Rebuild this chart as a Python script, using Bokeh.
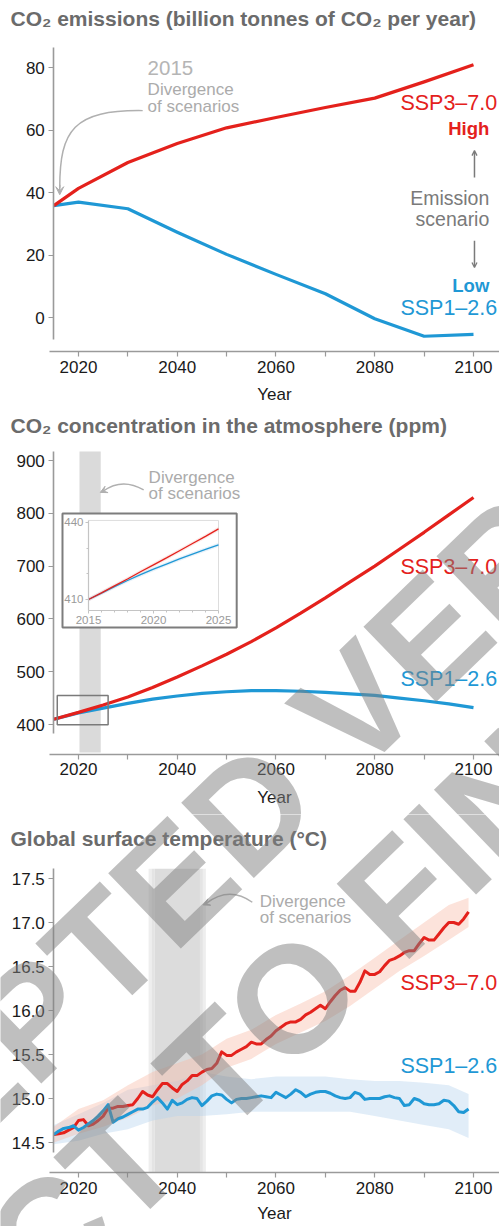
from bokeh.plotting import figure
from bokeh.layouts import column
from bokeh.models import (Range1d, LinearAxis, FixedTicker, Arrow, VeeHead, OpenHead,
                          PrintfTickFormatter, Label)
from bokeh.core.properties import value
from bokeh.embed import file_html
from bokeh.resources import INLINE

FONT = "Liberation Sans"
RED = "#e4211c"
BLUE = "#1f98d5"
TITLE_C = "#6b6b6b"
AX_C = "#9a9a9a"
LBL_C = "#1a1a1a"
NOTE_C = "#ababab"

# ---------------- Panel 1: CO2 emissions ----------------
em_years = [2015, 2020, 2030, 2040, 2050, 2060, 2070, 2080, 2090, 2100]
em_ssp370 = [35.8, 41.3, 49.6, 55.7, 60.7, 64.0, 67.2, 70.2, 75.4, 80.9]
em_ssp126 = [35.8, 36.9, 34.8, 27.3, 20.2, 13.8, 7.6, -0.4, -6.0, -5.4]
em_yticks = [0, 20, 40, 60, 80]

# ---------------- Panel 2: CO2 concentration ----------------
conc_years = [2015, 2020, 2025, 2030, 2035, 2040, 2045, 2050, 2055, 2060,
              2065, 2070, 2075, 2080, 2085, 2090, 2095, 2100]
conc_ssp370 = [410, 423, 437, 452, 470, 490, 511, 533, 557, 583,
               611, 640, 670, 700, 732, 764, 797, 830]
conc_ssp126 = [410, 422, 431, 440, 448, 454, 459, 462, 464, 464,
               463, 461, 458, 455, 450, 445, 439, 432]
conc_yticks = [400, 500, 600, 700, 800, 900]

inset_years = [2015, 2016, 2017, 2018, 2019, 2020, 2021, 2022, 2023, 2024, 2025]
inset_ssp370 = [410.0, 412.6, 415.3, 418.0, 420.8, 423.5, 426.2, 429.0, 431.8, 434.6, 437.5]
inset_ssp126 = [410.0, 412.5, 415.0, 417.4, 419.7, 421.8, 423.8, 425.8, 427.7, 429.5, 431.3]
inset_yticks = [410, 440]
inset_xticks = [2015, 2020, 2025]

# ---------------- Panel 3: global surface temperature ----------------
temp_years = list(range(2015, 2100))
temp_ssp370 = [14.59, 14.60, 14.61, 14.64, 14.67, 14.75, 14.76, 14.69, 14.71, 14.75,
               14.80, 14.89, 14.89, 14.91, 14.91, 14.92, 14.93, 15.00, 15.08, 15.04,
               15.02, 15.10, 15.17, 15.17, 15.12, 15.08, 15.16, 15.20, 15.26, 15.26,
               15.30, 15.33, 15.34, 15.40, 15.53, 15.49, 15.49, 15.53, 15.56, 15.59,
               15.64, 15.62, 15.62, 15.67, 15.71, 15.77, 15.81, 15.85, 15.87, 15.87,
               15.90, 15.95, 15.98, 16.02, 16.06, 16.02, 16.10, 16.17, 16.23, 16.26,
               16.22, 16.22, 16.32, 16.45, 16.41, 16.41, 16.44, 16.51, 16.57, 16.59,
               16.62, 16.66, 16.68, 16.68, 16.76, 16.83, 16.80, 16.80, 16.87, 16.94,
               17.00, 17.00, 16.98, 17.04, 17.12]
temp_ssp126 = [14.59, 14.63, 14.66, 14.67, 14.69, 14.64, 14.67, 14.71, 14.75, 14.80,
               14.86, 14.93, 14.73, 14.77, 14.79, 14.82, 14.85, 14.88, 14.88, 14.90,
               14.96, 15.01, 14.95, 14.88, 14.98, 14.93, 14.95, 14.99, 15.01, 15.00,
               14.92, 14.97, 15.03, 15.05, 15.04, 14.99, 14.95, 14.99, 15.00, 15.00,
               15.01, 15.02, 15.03, 15.02, 15.01, 15.07, 15.04, 15.01, 15.05, 15.10,
               15.07, 15.02, 15.05, 15.07, 15.08, 15.08, 15.06, 15.03, 15.01, 15.00,
               15.01, 15.07, 15.05, 14.99, 15.00, 15.00, 15.00, 15.02, 15.03, 15.01,
               15.00, 14.92, 14.93, 15.00, 14.98, 14.94, 14.93, 14.93, 14.94, 14.98,
               14.97, 14.92, 14.85, 14.84, 14.88]
# spread of the individual simulations (read as envelopes)
spread_years = [2015, 2020, 2025, 2030, 2035, 2040, 2045, 2050, 2055, 2060,
                2065, 2070, 2075, 2080, 2085, 2090, 2095, 2099]
ssp370_low = [14.50, 14.60, 14.68, 14.78, 14.92, 15.00, 15.15, 15.35, 15.45, 15.62,
              15.75, 15.88, 16.05, 16.25, 16.45, 16.62, 16.80, 16.95]
ssp370_high = [14.68, 14.88, 14.98, 15.15, 15.30, 15.40, 15.50, 15.68, 15.78, 15.95,
               16.08, 16.22, 16.40, 16.60, 16.80, 17.00, 17.20, 17.28]
ssp126_low = [14.48, 14.52, 14.60, 14.65, 14.75, 14.80, 14.80, 14.82, 14.85, 14.85,
              14.85, 14.85, 14.85, 14.80, 14.75, 14.70, 14.65, 14.55]
ssp126_high = [14.70, 14.82, 14.95, 15.10, 15.15, 15.20, 15.30, 15.25, 15.22, 15.25,
               15.25, 15.25, 15.22, 15.20, 15.20, 15.18, 15.15, 15.05]
temp_yticks = [14.5, 15.0, 15.5, 16.0, 16.5, 17.0, 17.5]

x_ticks = [2020, 2040, 2060, 2080, 2100]
x_minor = [2030, 2050, 2070, 2090]

watermark_lines = ["ACCEPTED VERSION", "SUBJECT TO FINAL EDITING"]

X0, X1 = 2004.203, 2105.266      # visible year span of every panel
XAX = (2014.13, 2105.27)         # extent of the drawn x axis line


def make_fig(height, y0, y1, ybounds, xaxis_at, yticks, title, title_y, label_standoff=9):
    p = figure(width=499, height=height, x_range=Range1d(X0, X1), y_range=Range1d(y0, y1),
               output_backend="svg", toolbar_location=None, title=None,
               min_border_left=0, min_border_right=0, min_border_top=0, min_border_bottom=0,
               x_axis_location=None, y_axis_location=None)
    p.outline_line_color = None
    p.grid.visible = False
    p.background_fill_color = "white"
    p.border_fill_color = "white"
    xax = LinearAxis(fixed_location=xaxis_at, bounds=XAX,
                     ticker=FixedTicker(ticks=x_ticks, minor_ticks=x_minor),
                     axis_label="Year")
    yax = LinearAxis(fixed_location=2015, bounds=ybounds, ticker=FixedTicker(ticks=yticks))
    for ax in (xax, yax):
        ax.axis_line_color = AX_C
        ax.axis_line_width = 1.6
        ax.major_tick_line_color = AX_C
        ax.minor_tick_line_color = AX_C
        ax.major_tick_line_width = 1.2
        ax.minor_tick_line_width = 1.2
        ax.major_tick_in = 0
        ax.major_tick_out = 5
        ax.minor_tick_in = 0
        ax.minor_tick_out = 0
        ax.major_label_text_font = FONT
        ax.major_label_text_font_size = "17px"
        ax.major_label_text_color = LBL_C
        ax.major_label_standoff = 4
    xax.minor_tick_out = 5
    xax.axis_label_text_font = FONT
    xax.axis_label_text_font_size = "17px"
    xax.axis_label_text_font_style = "normal"
    xax.axis_label_text_color = LBL_C
    xax.axis_label_standoff = label_standoff
    p.add_layout(xax, "below")
    p.add_layout(yax, "left")
    p.text(x=[2006.23], y=[title_y], text=[title], text_font=value(FONT),
           text_font_size="21px", text_font_style="bold", text_color=TITLE_C,
           text_align="left", text_baseline="middle")
    return p, yax


def note(p, x, y, lines_, color, size, align="left", style="normal"):
    p.text(x=x, y=y, text=lines_, text_font=value(FONT), text_font_size=size,
           text_color=color, text_align=align, text_baseline="middle",
           text_font_style=style)


def watermark(p, starts):
    for (wx, wy), txt in zip(starts, watermark_lines):
        p.add_layout(Label(x=wx, y=wy, text=txt, angle=0.768, angle_units="rad",
                           text_font=FONT, text_font_style="bold", text_font_size="152px",
                           text_color="#808080", text_alpha=0.5,
                           text_align="left", text_baseline="alphabetic"))


# ======== Panel 1 (page rows 0-404) ========
p1, _ = make_fig(404, -27.84, 101.44, (-7.0, 86.4), -10.88, em_yticks,
                 "CO\u2082 emissions (billion tonnes of CO\u2082 per year)", 95.68)
p1.line(em_years, em_ssp126, line_color=BLUE, line_width=3.2, line_join="round")
p1.line(em_years, em_ssp370, line_color=RED, line_width=3.2, line_join="round")

note(p1, [2034.0], [79.7], ["2015"], "#b5b5b5", "20.5px")
note(p1, [2034.0, 2034.0], [73.0, 67.5], ["Divergence", "of scenarios"], NOTE_C, "17px")
p1.bezier(x0=[2033.0], y0=[66.2], x1=[2016.2], y1=[41.5], cx0=[2019.0], cy0=[66.5],
          cx1=[2016.2], cy1=[60.0], line_color="#b0b0b0", line_width=1.5)
p1.add_layout(Arrow(end=VeeHead(size=8, line_color="#b0b0b0", fill_color="#b0b0b0"),
                    x_start=2016.2, y_start=42.5, x_end=2016.2, y_end=39.3,
                    line_color="#b0b0b0", line_width=1.5))

note(p1, [2104.8], [68.5], ["SSP3\u20137.0"], RED, "21.5px", "right")
note(p1, [2103.2], [60.5], ["High"], RED, "18.5px", "right", "bold")
note(p1, [2103.2, 2103.2], [38.4, 31.4], ["Emission", "scenario"], "#7a7a7a", "19.5px", "right")
note(p1, [2103.2], [10.2], ["Low"], BLUE, "18.5px", "right", "bold")
note(p1, [2104.8], [3.2], ["SSP1\u20132.6"], BLUE, "21.5px", "right")
p1.add_layout(Arrow(end=OpenHead(size=5, line_color="#7a7a7a", line_width=1.3),
                    x_start=2100.2, y_start=44.8, x_end=2100.2, y_end=53.4,
                    line_color="#7a7a7a", line_width=1.5))
p1.add_layout(Arrow(end=OpenHead(size=5, line_color="#7a7a7a", line_width=1.3),
                    x_start=2100.2, y_start=24.6, x_end=2100.2, y_end=16.0,
                    line_color="#7a7a7a", line_width=1.5))

# ======== Panel 2 (page rows 404-814) ========
p2, _ = make_fig(410, 229.55, 1006.06, (383, 917), 343.2, conc_yticks,
                 "CO\u2082 concentration in the atmosphere (ppm)", 966.3)
p2.quad(left=[2020.2], right=[2024.5], bottom=[347], top=[917],
        fill_color="#dadada", line_color=None)
p2.line(conc_years, conc_ssp126, line_color=BLUE, line_width=3.2)
p2.line(conc_years, conc_ssp370, line_color=RED, line_width=3.2)
p2.quad(left=[2015.7], right=[2026.0], bottom=[399.5], top=[455],
        fill_color=None, line_color="#7a7a7a", line_width=1.5)

note(p2, [2034.2, 2034.2], [867.8, 837.5], ["Divergence", "of scenarios"], NOTE_C, "17px")
p2.quadratic(x0=[2033.2], y0=[844.5], x1=[2025.0], y1=[842.0], cx=[2028.8], cy=[868.0],
             line_color="#b0b0b0", line_width=1.5)
p2.add_layout(Arrow(end=VeeHead(size=7, line_color="#b0b0b0", fill_color="#b0b0b0"),
                    x_start=2025.3, y_start=843.5, x_end=2024.4, y_end=839.5,
                    line_color="#b0b0b0", line_width=1.5))
note(p2, [2104.8], [699.2], ["SSP3\u20137.0"], RED, "21.5px", "right")
note(p2, [2104.8], [487.1], ["SSP1\u20132.6"], BLUE, "21.5px", "right")

# inset (own scales)
p2.extra_x_ranges = {"ix": Range1d(2008.231, 2046.615)}
p2.extra_y_ranges = {"iy": Range1d(326.24, 485.96)}
p2.quad(left=[2013.0], right=[2026.4], bottom=[399.1], top=[443.5],
        fill_color="white", line_color="#7d7d7d", line_width=2,
        x_range_name="ix", y_range_name="iy")
p2.line([2015, 2025, 2025], [440.8, 440.8, 405.7], line_color="#dddddd", line_width=1,
        x_range_name="ix", y_range_name="iy")
p2.varea(x=inset_years, y1=[v - 0.8 for v in inset_ssp126], y2=[v + 0.8 for v in inset_ssp126],
         fill_color="#9ec6e6", fill_alpha=0.25, x_range_name="ix", y_range_name="iy")
p2.varea(x=inset_years, y1=[v - 0.8 for v in inset_ssp370], y2=[v + 0.8 for v in inset_ssp370],
         fill_color="#f2a9a0", fill_alpha=0.25, x_range_name="ix", y_range_name="iy")
p2.line(inset_years, inset_ssp126, line_color=BLUE, line_width=1.3,
        x_range_name="ix", y_range_name="iy")
p2.line(inset_years, inset_ssp370, line_color=RED, line_width=1.3,
        x_range_name="ix", y_range_name="iy")

iy_ax = LinearAxis(x_range_name="ix", y_range_name="iy", fixed_location=2015,
                   bounds=(405.7, 440.8),
                   ticker=FixedTicker(ticks=inset_yticks, minor_ticks=[420, 430]))
ix_ax = LinearAxis(x_range_name="ix", y_range_name="iy", fixed_location=405.7,
                   bounds=(2015, 2025),
                   ticker=FixedTicker(ticks=inset_xticks,
                                      minor_ticks=[2016, 2017, 2018, 2019, 2021, 2022, 2023, 2024]))
for ax in (iy_ax, ix_ax):
    ax.axis_line_color = "#c4c4c4"
    ax.axis_line_width = 1.2
    ax.major_tick_line_color = "#c4c4c4"
    ax.minor_tick_line_color = "#c4c4c4"
    ax.major_tick_in = 0
    ax.major_tick_out = 3
    ax.minor_tick_in = 0
    ax.minor_tick_out = 2
    ax.major_label_text_font = FONT
    ax.major_label_text_font_size = "11.5px"
    ax.major_label_text_color = "#9a9a9a"
    ax.major_label_standoff = 2
p2.add_layout(iy_ax, "left")
p2.add_layout(ix_ax, "below")

# ======== Panel 3 (page rows 814-1226) ========
p3, yax3 = make_fig(412, 13.5455, 18.2273, (14.386, 17.61), 14.159, temp_yticks,
                    "Global surface temperature (\u00b0C)", 17.955, label_standoff=7)
yax3.formatter = PrintfTickFormatter(format="%.1f")
p3.quad(left=[2034.2, 2034.8, 2035.4, 2044.6, 2045.2],
        right=[2034.8, 2035.4, 2044.6, 2045.2, 2045.8],
        bottom=[14.159] * 5, top=[17.61] * 5,
        fill_color=["#eeeeee", "#e4e4e4", "#dcdcdc", "#e4e4e4", "#eeeeee"], line_color=None)
p3.varea(x=spread_years, y1=ssp126_low, y2=ssp126_high, fill_color="#b3d1ee", fill_alpha=0.4)
p3.varea(x=spread_years, y1=ssp370_low, y2=ssp370_high, fill_color="#f7b9a6", fill_alpha=0.4)
p3.line(temp_years, temp_ssp370, line_color=RED, line_width=3, line_join="round")
p3.line(temp_years, temp_ssp126, line_color=BLUE, line_width=3, line_join="round")

note(p3, [2056.7, 2056.7], [17.24, 17.06], ["Divergence", "of scenarios"], NOTE_C, "17px")
p3.quadratic(x0=[2055.2], y0=[17.23], x1=[2045.8], y1=[17.215], cx=[2050.5], cy=[17.42],
             line_color="#b0b0b0", line_width=1.5)
p3.add_layout(Arrow(end=VeeHead(size=7, line_color="#b0b0b0", fill_color="#b0b0b0"),
                    x_start=2046.0, y_start=17.22, x_end=2045.2, y_end=17.20,
                    line_color="#b0b0b0", line_width=1.5))
note(p3, [2104.8], [16.31], ["SSP3\u20137.0"], RED, "21.5px", "right")
note(p3, [2104.8], [15.375], ["SSP1\u20132.6"], BLUE, "21.5px", "right")

# diagonal stamp over the lower two panels (same page position in both)
watermark(p2, [(1940.77, -787.5), (1932.06, -1303.6)])
watermark(p3, [(1940.77, 12.125), (1932.06, 9.028)])

layout = column(p1, p2, p3, spacing=0)
open("out.html", "w").write(file_html(layout, INLINE))
